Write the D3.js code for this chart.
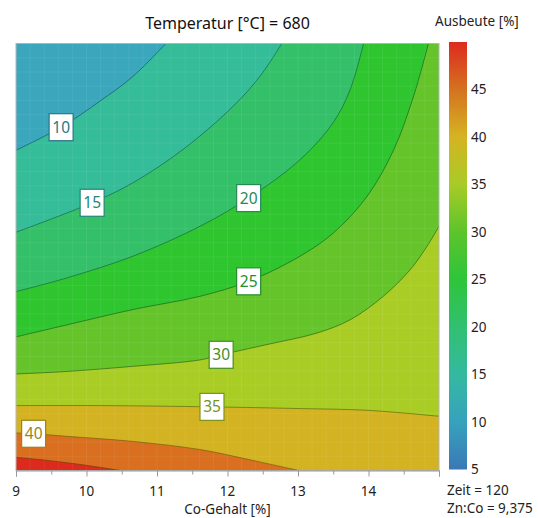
<!DOCTYPE html>
<html>
<head>
<meta charset="utf-8">
<style>
  body { margin: 0; background: #fff; }
  svg { font-family: "Segoe UI", "Noto Sans", "Open Sans", sans-serif; }
</style>
</head>
<body>
<svg width="538" height="518"></svg>
<script src="https://d3js.org/d3.v7.min.js"></script>
<script>

// x = Co-Gehalt [%], y = relative position on the (unlabelled) vertical axis, 0..1
var xTicks = [9, 10, 11, 12, 13, 14];
var levels = [10, 15, 20, 25, 30, 35, 40, 45];

var contour10 = [[9, 0.750], [9.64, 0.804], [10.19, 0.865], [10.66, 0.923], [11.125, 1]];
var contour15 = [[9, 0.558], [10.08, 0.627], [10.66, 0.674], [11.37, 0.752], [12.08, 0.853], [12.46, 0.923], [12.77, 1]];
var contour20 = [[9, 0.419], [9.72, 0.451], [10.66, 0.502], [11.61, 0.572], [12.30, 0.638], [13.03, 0.728], [13.50, 0.815], [13.74, 0.892], [13.93, 1]];
var contour25 = [[9, 0.313], [9.72, 0.341], [10.66, 0.377], [11.61, 0.408], [12.30, 0.443], [13.03, 0.502], [13.50, 0.556], [13.98, 0.642], [14.36, 0.752], [14.64, 0.877], [14.85, 1]];
var contour30 = [[9, 0.226], [9.72, 0.232], [10.66, 0.244], [11.61, 0.259], [11.91, 0.271], [12.56, 0.295], [13.27, 0.322], [13.74, 0.353], [14.21, 0.408], [14.59, 0.470], [14.83, 0.525], [15, 0.572]];
var contour35 = [[9, 0.152], [10.19, 0.152], [11.78, 0.149], [13.03, 0.145], [13.98, 0.141], [15, 0.127]];
var contour40 = [[9, 0.088], [9.25, 0.086], [9.72, 0.080], [10.66, 0.068], [11.61, 0.049], [12.32, 0.025], [13.01, 0]];
var contour45 = [[9, 0.031], [9.48, 0.023], [9.96, 0.013], [10.48, 0]];
var contours = [contour10, contour15, contour20, contour25, contour30, contour35, contour40, contour45];

// where the value boxes sit on each line (x value)
var labelX = [9.64, 10.08, 12.30, 12.30, 11.91, 11.78, 9.25];

// colour of each filled band 5-10, 10-15, ... 45-50
var bandColors = ["#3aa7bc", "#35bc98", "#33c068", "#2ec52f", "#64c42a", "#a9cd25", "#d3b322", "#d96f1f", "#dc2a1c"];

// colour bar
var cbValues = [5, 10, 15, 20, 25, 30, 35, 40, 45, 50];
var cbColors = ["#3a78b6", "#37a2bd", "#34b9a0", "#31c071", "#2ec53a", "#5cc42b", "#a8cb27", "#d4b422", "#d5721f", "#dd2a1f"];
var cbTicks = [5, 10, 15, 20, 25, 30, 35, 40, 45];

var svg = d3.select("svg");

var x = d3.scaleLinear().domain([9, 15]).range([16, 439]);
var y = d3.scaleLinear().domain([0, 1]).range([470.5, 43.5]);
var cb = d3.scaleLinear().domain([5, 50]).range([469.5, 42]);
var cColor = d3.scaleLinear().domain(cbValues).range(cbColors);

svg.append("defs").append("clipPath").attr("id", "plot")
  .append("rect")
    .attr("x", x(9)).attr("y", y(1))
    .attr("width", x(15) - x(9)).attr("height", y(0) - y(1));

var line = d3.line()
    .x(function(d) { return x(d[0]); })
    .y(function(d) { return y(d[1]); })
    .curve(d3.curveCatmullRom);

// walk clockwise from the line's end round the lower right corner back to its start
function corners(pts) {
  var e = pts[pts.length - 1];
  if (e[1] >= 1) return [[15, 1], [15, 0], [9, 0]];
  if (e[0] >= 15) return [[15, 0], [9, 0]];
  return [[9, 0]];
}

var g = svg.append("g").attr("clip-path", "url(#plot)");

g.append("rect")
    .attr("x", x(9)).attr("y", y(1))
    .attr("width", x(15) - x(9)).attr("height", y(0) - y(1))
    .attr("fill", bandColors[0]);

g.selectAll("path.band")
  .data(contours)
  .enter().append("path")
    .attr("class", "band")
    .attr("fill", function(d, i) { return bandColors[i + 1]; })
    .attr("d", function(d) {
      return line(d) + corners(d).map(function(c) {
        return "L" + x(c[0]) + "," + y(c[1]);
      }).join("") + "Z";
    });

// faint mesh
g.selectAll("line.vg")
  .data(d3.range(9, 15, 0.2))
  .enter().append("line")
    .attr("x1", function(d) { return x(d); }).attr("x2", function(d) { return x(d); })
    .attr("y1", y(0)).attr("y2", y(1))
    .attr("stroke", "#fff").attr("stroke-opacity", 0.07);
g.selectAll("line.hg")
  .data(d3.range(0, 1, 1 / 30))
  .enter().append("line")
    .attr("y1", function(d) { return y(d); }).attr("y2", function(d) { return y(d); })
    .attr("x1", x(9)).attr("x2", x(15))
    .attr("stroke", "#fff").attr("stroke-opacity", 0.07);

g.selectAll("path.iso")
  .data(contours)
  .enter().append("path")
    .attr("class", "iso")
    .attr("fill", "none")
    .attr("stroke", function(d, i) { return d3.color(cColor(levels[i])).darker(1.6); })
    .attr("stroke-opacity", 0.75)
    .attr("stroke-width", 1)
    .attr("d", line);

// frame
svg.append("rect")
    .attr("x", x(9)).attr("y", y(1))
    .attr("width", x(15) - x(9)).attr("height", y(0) - y(1))
    .attr("fill", "none").attr("stroke", "#b4b4b4");

// value boxes
function yOnLine(pts, xv) {
  for (var i = 1; i < pts.length; i++) {
    if (xv <= pts[i][0]) {
      var t = (xv - pts[i - 1][0]) / (pts[i][0] - pts[i - 1][0]);
      return pts[i - 1][1] + t * (pts[i][1] - pts[i - 1][1]);
    }
  }
  return pts[pts.length - 1][1];
}

var lab = svg.append("g").selectAll("g")
  .data(labelX)
  .enter().append("g")
    .attr("transform", function(d, i) {
      return "translate(" + x(d) + "," + y(yOnLine(contours[i], d)) + ")";
    });
lab.append("rect")
    .attr("x", -12).attr("y", -13.5).attr("width", 24).attr("height", 27)
    .attr("fill", "#fff")
    .attr("stroke", function(d, i) { return d3.color(cColor(levels[i])).darker(0.9); })
    .attr("stroke-width", 1.2);
lab.append("text")
    .attr("text-anchor", "middle").attr("dy", "0.36em")
    .attr("font-size", 15.5)
    .attr("fill", function(d, i) { return d3.color(cColor(levels[i])).darker(0.9); })
    .text(function(d, i) { return levels[i]; });

// x axis
var ax = svg.append("g")
    .attr("transform", "translate(0," + y(0) + ")")
    .call(d3.axisBottom(x).tickValues(d3.range(9, 15.01, 0.5)).tickSize(6).tickFormat(""));
ax.select(".domain").attr("stroke", "#999");
ax.selectAll(".tick line").attr("stroke", "#999")
  .attr("y2", function(d) { return Number.isInteger(d) ? 6 : 4; });

svg.append("g").selectAll("text")
  .data(xTicks)
  .enter().append("text")
    .attr("x", function(d) { return x(d); })
    .attr("y", 496)
    .attr("text-anchor", "middle")
    .attr("font-size", 13.5).attr("fill", "#222")
    .text(function(d) { return d; });

svg.append("text")
    .attr("x", (x(9) + x(15)) / 2).attr("y", 514)
    .attr("text-anchor", "middle").attr("font-size", 13.5).attr("fill", "#222")
    .text("Co-Gehalt [%]");

svg.append("text")
    .attr("x", (x(9) + x(15)) / 2).attr("y", 29)
    .attr("text-anchor", "middle").attr("font-size", 16).attr("fill", "#111")
    .text("Temperatur [°C] = 680");

// colour bar
var grad = svg.select("defs").append("linearGradient")
    .attr("id", "cbg").attr("x1", 0).attr("x2", 0).attr("y1", 1).attr("y2", 0);
grad.selectAll("stop")
  .data(cbValues)
  .enter().append("stop")
    .attr("offset", function(d) { return (d - 5) / 45; })
    .attr("stop-color", function(d, i) { return cbColors[i]; });

svg.append("rect")
    .attr("x", 449).attr("y", cb(50))
    .attr("width", 18).attr("height", cb(5) - cb(50))
    .attr("fill", "url(#cbg)");

svg.append("g").selectAll("text")
  .data(cbTicks)
  .enter().append("text")
    .attr("x", 471)
    .attr("y", function(d) { return cb(d); })
    .attr("dy", "0.35em")
    .attr("font-size", 13.5).attr("fill", "#222")
    .text(function(d) { return d; });

svg.append("text")
    .attr("x", 435).attr("y", 26)
    .attr("font-size", 13.5).attr("fill", "#222")
    .text("Ausbeute [%]");

svg.append("text")
    .attr("x", 447).attr("y", 495)
    .attr("font-size", 13.5).attr("fill", "#222")
    .text("Zeit = 120");
svg.append("text")
    .attr("x", 447).attr("y", 513)
    .attr("font-size", 13.5).attr("fill", "#222")
    .text("Zn:Co = 9,375");

</script>
</body>
</html>
